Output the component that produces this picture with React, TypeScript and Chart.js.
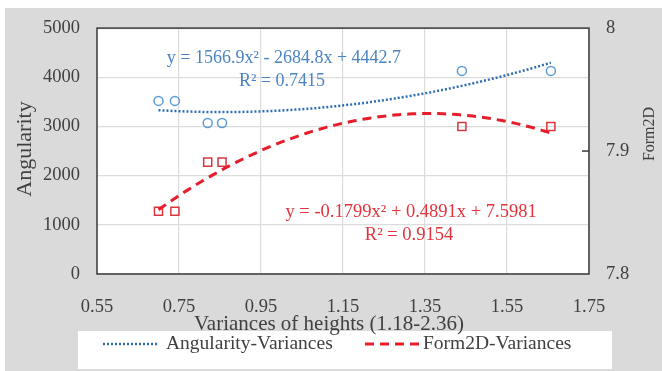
import { useEffect, useRef } from "react";
import { Chart, registerables } from "chart.js";

Chart.register(...registerables);

// Variance of heights for each sample (x) with the two measured responses
const heightVariances = [0.7, 0.74, 0.82, 0.855, 1.44, 1.657];
const angularity = [3520, 3520, 3070, 3070, 4130, 4130];
const form2d = [7.851, 7.851, 7.891, 7.891, 7.92, 7.92];

const xTicks = [0.55, 0.75, 0.95, 1.15, 1.35, 1.55, 1.75];
const angularityTicks = [0, 1000, 2000, 3000, 4000, 5000];
const form2dTicks = [7.8, 7.9, 8.0];

// Second-order polynomial trendlines: y = a·x² + b·x + c
const angularityFit = [1566.9, -2684.8, 4442.7];
const form2dFit = [-0.1799, 0.4891, 7.5981];
const angularityR2 = 0.7415;
const form2dR2 = 0.9154;

const FONT = "'Liberation Serif', 'Times New Roman', serif";
const BLUE_POINT = "#5b9bd5";
const BLUE_LINE = "#2f6db3";
const BLUE_TEXT = "#4a84c2";
const RED_POINT = "#d9363e";
const RED_LINE = "#e61e2b";
const RED_TEXT = "#e2333d";
const AXIS_TEXT = "#404040";

const polyAt = (c: number[], x: number) => c[0] * x * x + c[1] * x + c[2];

function trendPoints(coefs: number[]) {
  const lo = Math.min(...heightVariances);
  const hi = Math.max(...heightVariances);
  const n = 80;
  const pts: { x: number; y: number }[] = [];
  for (let i = 0; i <= n; i++) {
    const x = lo + ((hi - lo) * i) / n;
    pts.push({ x, y: polyAt(coefs, x) });
  }
  return pts;
}

function equationText(c: number[]) {
  const sign = (v: number) => (v < 0 ? "-" : "+");
  return `y = ${c[0]}x² ${sign(c[1])} ${Math.abs(c[1])}x ${sign(c[2])} ${Math.abs(c[2])}`;
}

const decorPlugin = {
  id: "decor",
  beforeDraw(chart: any) {
    const { ctx, chartArea: a, width, height } = chart;
    ctx.save();
    ctx.fillStyle = "#ffffff";
    ctx.fillRect(0, 0, width, height);
    ctx.fillStyle = "#dadada";
    ctx.fillRect(5, 8, width - 5, height - 8);
    ctx.fillStyle = "#ffffff";
    ctx.fillRect(a.left, a.top, a.right - a.left, a.bottom - a.top);
    // legend panel
    ctx.fillRect(78, 331, 534, 38);
    ctx.restore();
  },
  beforeDatasetsDraw(chart: any) {
    const { ctx, chartArea: a, scales } = chart;
    ctx.save();
    ctx.strokeStyle = "#3a3a3a";
    ctx.lineWidth = 1.5;
    ctx.strokeRect(a.left, a.top, a.right - a.left, a.bottom - a.top);
    // minor tick on the secondary axis
    const ty = scales.y1.getPixelForValue(7.9);
    ctx.beginPath();
    ctx.moveTo(a.right - 7, ty);
    ctx.lineTo(a.right, ty);
    ctx.stroke();
    ctx.restore();
  },
  afterDraw(chart: any) {
    const { ctx, scales } = chart;
    const x = scales.x;
    const y = scales.y;
    ctx.save();
    ctx.textAlign = "center";
    ctx.textBaseline = "middle";

    // trendline equations
    ctx.font = `18px ${FONT}`;
    ctx.fillStyle = BLUE_TEXT;
    ctx.fillText(equationText(angularityFit), x.getPixelForValue(1.006), y.getPixelForValue(4390));
    ctx.fillText(`R² = ${angularityR2}`, x.getPixelForValue(1.001), y.getPixelForValue(3920));
    ctx.fillStyle = RED_TEXT;
    ctx.font = `18.5px ${FONT}`;
    ctx.fillText(equationText(form2dFit), x.getPixelForValue(1.316), y.getPixelForValue(1260));
    ctx.fillText(`R² = ${form2dR2}`, x.getPixelForValue(1.311), y.getPixelForValue(790));

    // axis titles
    ctx.fillStyle = AXIS_TEXT;
    ctx.font = `21px ${FONT}`;
    ctx.fillText("Variances of heights (1.18-2.36)", 329, 324);
    ctx.save();
    ctx.translate(25, 149);
    ctx.rotate(-Math.PI / 2);
    ctx.font = `22px ${FONT}`;
    ctx.fillText("Angularity", 0, 0);
    ctx.restore();
    ctx.save();
    ctx.translate(650, 134);
    ctx.rotate(-Math.PI / 2);
    ctx.font = `16px ${FONT}`;
    ctx.fillText("Form2D", 0, 0);
    ctx.restore();

    // legend
    ctx.textAlign = "left";
    ctx.font = `19.5px ${FONT}`;
    const ly = 344;
    ctx.lineCap = "butt";
    ctx.strokeStyle = BLUE_LINE;
    ctx.lineWidth = 2.5;
    ctx.setLineDash([2, 2]);
    ctx.beginPath();
    ctx.moveTo(103, ly);
    ctx.lineTo(158, ly);
    ctx.stroke();
    ctx.strokeStyle = RED_LINE;
    ctx.lineWidth = 3;
    ctx.setLineDash([9, 6]);
    ctx.beginPath();
    ctx.moveTo(365, ly);
    ctx.lineTo(419, ly);
    ctx.stroke();
    ctx.setLineDash([]);
    ctx.fillStyle = AXIS_TEXT;
    ctx.fillText("Angularity-Variances", 166, ly);
    ctx.fillText("Form2D-Variances", 423, ly);
    ctx.restore();
  },
};

export default function App() {
  const canvasRef = useRef<HTMLCanvasElement | null>(null);

  useEffect(() => {
    if (!canvasRef.current) return;
    const chart = new Chart(canvasRef.current, {
      type: "scatter",
      data: {
        datasets: [
          {
            label: "Angularity-Variances",
            data: trendPoints(angularityFit),
            type: "line",
            yAxisID: "y",
            borderColor: BLUE_LINE,
            borderWidth: 2.5,
            borderDash: [2, 2],
            pointRadius: 0,
            fill: false,
            tension: 0,
          },
          {
            label: "Form2D-Variances",
            data: trendPoints(form2dFit),
            type: "line",
            yAxisID: "y1",
            borderColor: RED_LINE,
            borderWidth: 3,
            borderDash: [9, 6],
            pointRadius: 0,
            fill: false,
            tension: 0,
          },
          {
            label: "Angularity",
            data: heightVariances.map((x, i) => ({ x, y: angularity[i] })),
            yAxisID: "y",
            pointStyle: "circle",
            pointRadius: 4.5,
            borderWidth: 1.5,
            borderColor: BLUE_POINT,
            backgroundColor: "rgba(0,0,0,0)",
          },
          {
            label: "Form2D",
            data: heightVariances.map((x, i) => ({ x, y: form2d[i] })),
            yAxisID: "y1",
            pointStyle: "rect",
            pointRadius: 5.7,
            borderWidth: 1.5,
            borderColor: RED_POINT,
            backgroundColor: "rgba(0,0,0,0)",
          },
        ],
      },
      options: {
        animation: false,
        responsive: false,
        layout: { padding: { top: 21, left: 0, right: 0, bottom: 0 } },
        plugins: {
          legend: { display: false },
          tooltip: { enabled: false },
        },
        scales: {
          x: {
            type: "linear",
            min: 0.55,
            max: 1.75,
            afterBuildTicks: (s: any) => {
              s.ticks = xTicks.map((v) => ({ value: v }));
            },
            afterFit: (s: any) => {
              s.height = 97;
            },
            grid: { color: "#dcdcdc", lineWidth: 1.2, drawTicks: false },
            border: { display: false },
            ticks: {
              padding: 22,
              color: AXIS_TEXT,
              font: { family: FONT, size: 18.5 },
              maxRotation: 0,
              callback: (v: any) => Number(v).toFixed(2),
            },
          },
          y: {
            type: "linear",
            position: "left",
            min: 0,
            max: 5000,
            afterBuildTicks: (s: any) => {
              s.ticks = angularityTicks.map((v) => ({ value: v }));
            },
            afterFit: (s: any) => {
              s.width = 97;
            },
            grid: { color: "#dcdcdc", lineWidth: 1.2, drawTicks: false },
            border: { display: false },
            ticks: {
              padding: 17,
              color: AXIS_TEXT,
              font: { family: FONT, size: 18.5 },
              callback: (v: any) => String(v),
            },
          },
          y1: {
            type: "linear",
            position: "right",
            min: 7.8,
            max: 8.0,
            afterBuildTicks: (s: any) => {
              s.ticks = form2dTicks.map((v) => ({ value: v }));
            },
            afterFit: (s: any) => {
              s.width = 73;
            },
            grid: { drawOnChartArea: false, drawTicks: false },
            border: { display: false },
            ticks: {
              padding: 17,
              color: AXIS_TEXT,
              font: { family: FONT, size: 18.5 },
              callback: (v: any) => String(Number(Number(v).toFixed(1))),
            },
          },
        },
      },
      plugins: [decorPlugin],
    });
    return () => chart.destroy();
  }, []);

  return (
    <div style={{ position: "absolute", left: 0, top: 0, width: 662, height: 371 }}>
      <canvas ref={canvasRef} width={662} height={371} />
    </div>
  );
}
